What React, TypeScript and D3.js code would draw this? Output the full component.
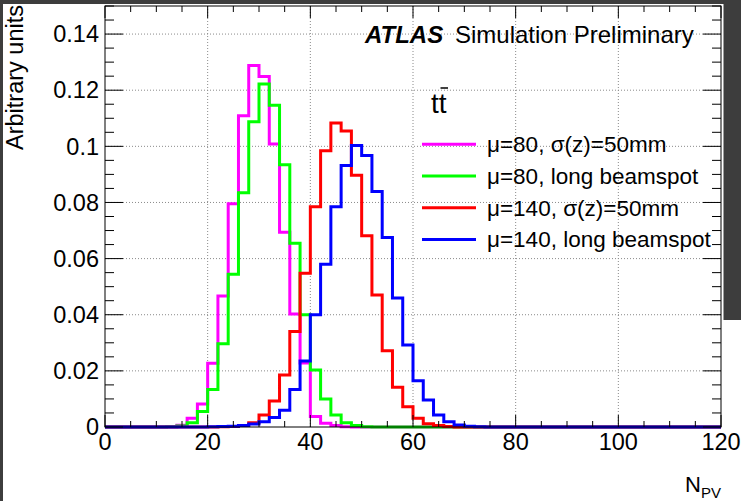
import React from 'react';
import * as d3 from 'd3';

// ---------- data ----------
const binWidth = 2;
const xDomain: [number, number] = [0, 120];
const yDomain: [number, number] = [0, 0.15];
const firstBinLow = 10; // arrays below start at the bin [10, 12]

const xMajorTicks = [0, 20, 40, 60, 80, 100, 120];
const xTickLabels = ['0', '20', '40', '60', '80', '100', '120'];
const yMajorTicks = [0, 0.02, 0.04, 0.06, 0.08, 0.1, 0.12, 0.14];
const yTickLabels = ['0', '0.02', '0.04', '0.06', '0.08', '0.1', '0.12', '0.14'];

// bins 10-12, 12-14, ..., 72-74
const mu80Sigma50 = [
  0, 0.0001, 0.0006, 0.0031, 0.0082, 0.0227, 0.0467, 0.0795, 0.1109, 0.1288,
  0.1249, 0.1008, 0.0694, 0.0403, 0.0228, 0.0037, 0.0013, 0.0005, 0.0001, 0,
  0, 0, 0, 0, 0, 0, 0, 0, 0, 0, 0, 0,
];
const mu80Long = [
  0, 0.0001, 0.0004, 0.0015, 0.0055, 0.0134, 0.0297, 0.0544, 0.0835, 0.1088,
  0.1222, 0.1146, 0.0934, 0.0655, 0.04, 0.0203, 0.01, 0.0043, 0.0015, 0.0005,
  0.0001, 0, 0, 0, 0, 0, 0, 0, 0, 0, 0, 0,
];
const mu140Sigma50 = [
  0, 0, 0, 0, 0, 0, 0.0001, 0.0002, 0.0005, 0.0015,
  0.0043, 0.0093, 0.0185, 0.034, 0.0548, 0.0785, 0.0984, 0.1083, 0.1055, 0.0897,
  0.0681, 0.047, 0.0272, 0.0142, 0.0072, 0.0031, 0.0012, 0.0005, 0.0002, 0, 0, 0,
];
const mu140Long = [
  0, 0, 0, 0, 0, 0.0001, 0.0002, 0.0003, 0.0005, 0.0011,
  0.0019, 0.0034, 0.006, 0.0134, 0.0235, 0.04, 0.058, 0.0785, 0.0932, 0.1003,
  0.0967, 0.0839, 0.0675, 0.046, 0.0292, 0.0165, 0.0096, 0.0043, 0.0019, 0.0007,
  0.0003, 0.0001,
];

const seriesValues = [mu80Sigma50, mu80Long, mu140Sigma50, mu140Long];
const seriesLabels = ['μ=80, σ(z)=50mm', 'μ=80, long beamspot', 'μ=140, σ(z)=50mm', 'μ=140, long beamspot'];
const seriesColors = ['#ff00ff', '#00ff00', '#ff0000', '#0000ff'];

const FONT = '"Liberation Sans", Arial, Helvetica, sans-serif';

export default function App() {
  const W = 741;
  const H = 501;
  const frame = { left: 105, right: 721, top: 6, bottom: 427 };

  const x = d3.scaleLinear().domain(xDomain).range([frame.left, frame.right]);
  const y = d3.scaleLinear().domain(yDomain).range([frame.bottom, frame.top]);

  const nBins = Math.round((xDomain[1] - xDomain[0]) / binWidth);
  const line = d3
    .line<[number, number]>()
    .x((d) => x(d[0]))
    .y((d) => y(d[1]))
    .curve(d3.curveStepAfter);

  const histPath = (vals: number[]) => {
    const pts: [number, number][] = d3.range(nBins).map((i) => {
      const lo = xDomain[0] + i * binWidth;
      const k = Math.round((lo - firstBinLow) / binWidth);
      const v = k >= 0 && k < vals.length ? vals[k] : 0;
      return [lo, v];
    });
    pts.push([xDomain[1], pts[pts.length - 1][1]]);
    return line(pts) || '';
  };

  const xMinor = d3.range(xDomain[0], xDomain[1] + 0.001, 5).filter((v) => v % 20 !== 0);
  const yMinor = d3
    .range(0, yDomain[1] + 1e-6, 0.005)
    .filter((v) => Math.abs(v / 0.02 - Math.round(v / 0.02)) > 1e-6);

  const xMajLen = 12, xMinLen = 6, yMajLen = 18, yMinLen = 9;
  const axisColor = '#000';

  const legendX0 = 422, legendX1 = 476, legendTextX = 487, legendY0 = 144.3, legendDy = 31.7;

  return (
    <svg
      width={W}
      height={H}
      style={{ position: 'absolute', left: 0, top: 0, background: '#fff' }}
      fontFamily={FONT}
    >
      <rect x={0} y={0} width={W} height={H} fill="#fff" />
      {/* dark screenshot borders */}
      <rect x={0} y={0} width={W} height={4} fill="#3d3d3d" />
      <rect x={0} y={0} width={3} height={H} fill="#3d3d3d" />
      <rect x={723.5} y={0} width={W - 723.5} height={320} fill="#3d3d3d" />

      {/* grid */}
      <g stroke="#8a8a8a" strokeWidth={1} strokeDasharray="1,2">
        {xMajorTicks
          .filter((v) => v > xDomain[0] && v < xDomain[1])
          .map((v) => (
            <line key={'gx' + v} x1={x(v)} x2={x(v)} y1={frame.top} y2={frame.bottom} />
          ))}
        {yMajorTicks
          .filter((v) => v > yDomain[0])
          .map((v) => (
            <line key={'gy' + v} x1={frame.left} x2={frame.right} y1={y(v)} y2={y(v)} />
          ))}
      </g>

      {/* histograms */}
      <g fill="none" strokeWidth={3} strokeLinejoin="miter">
        {seriesValues.map((vals, i) => (
          <path key={'h' + i} d={histPath(vals)} stroke={seriesColors[i]} />
        ))}
      </g>

      {/* frame and ticks */}
      <g stroke={axisColor} strokeWidth={1}>
        <rect
          x={frame.left}
          y={frame.top}
          width={frame.right - frame.left}
          height={frame.bottom - frame.top}
          fill="none"
        />
        {xMajorTicks.map((v) => (
          <g key={'xt' + v}>
            <line x1={x(v)} x2={x(v)} y1={frame.bottom} y2={frame.bottom - xMajLen} />
            <line x1={x(v)} x2={x(v)} y1={frame.top} y2={frame.top + xMajLen} />
          </g>
        ))}
        {xMinor.map((v) => (
          <g key={'xm' + v}>
            <line x1={x(v)} x2={x(v)} y1={frame.bottom} y2={frame.bottom - xMinLen} />
            <line x1={x(v)} x2={x(v)} y1={frame.top} y2={frame.top + xMinLen} />
          </g>
        ))}
        {yMajorTicks.map((v) => (
          <g key={'yt' + v}>
            <line x1={frame.left} x2={frame.left + yMajLen} y1={y(v)} y2={y(v)} />
            <line x1={frame.right} x2={frame.right - yMajLen} y1={y(v)} y2={y(v)} />
          </g>
        ))}
        {yMinor.map((v) => (
          <g key={'ym' + v}>
            <line x1={frame.left} x2={frame.left + yMinLen} y1={y(v)} y2={y(v)} />
            <line x1={frame.right} x2={frame.right - yMinLen} y1={y(v)} y2={y(v)} />
          </g>
        ))}
      </g>

      {/* tick labels */}
      <g fontSize={23.5} fill="#000">
        {yMajorTicks.map((v, i) => (
          <text key={'yl' + v} x={frame.left - 6} y={y(v)} dy="0.35em" textAnchor="end">
            {yTickLabels[i]}
          </text>
        ))}
        {xMajorTicks.map((v, i) => (
          <text key={'xl' + v} x={x(v)} y={450} textAnchor="middle">
            {xTickLabels[i]}
          </text>
        ))}
      </g>

      {/* axis titles */}
      <text
        transform={`translate(${23},${5}) rotate(-90)`}
        textAnchor="end"
        fontSize={23.5}
        fill="#000"
      >
        Arbitrary units
      </text>
      <text x={721} y={492} textAnchor="end" fontSize={22} fill="#000">
        N
        <tspan fontSize={15} dy={6}>
          PV
        </tspan>
      </text>

      {/* ATLAS label */}
      <text x={365} y={43} fontSize={24} fontWeight="bold" fontStyle="italic" fill="#000">
        ATLAS
      </text>
      <text x={455} y={43} fontSize={24} fill="#000">
        Simulation Preliminary
      </text>

      {/* legend */}
      <g>
        <text x={431} y={113} fontSize={28} fill="#000">
          tt
        </text>
        <line x1={440.5} x2={448} y1={88} y2={88} stroke="#000" strokeWidth={1.5} />
        {seriesLabels.map((lab, i) => {
          const yy = legendY0 + i * legendDy;
          return (
            <g key={'lg' + i}>
              <line x1={legendX0} x2={legendX1} y1={yy} y2={yy} stroke={seriesColors[i]} strokeWidth={3} />
              <text x={legendTextX} y={yy} dy="0.35em" fontSize={22.5} fill="#000">
                {lab}
              </text>
            </g>
          );
        })}
      </g>
    </svg>
  );
}
